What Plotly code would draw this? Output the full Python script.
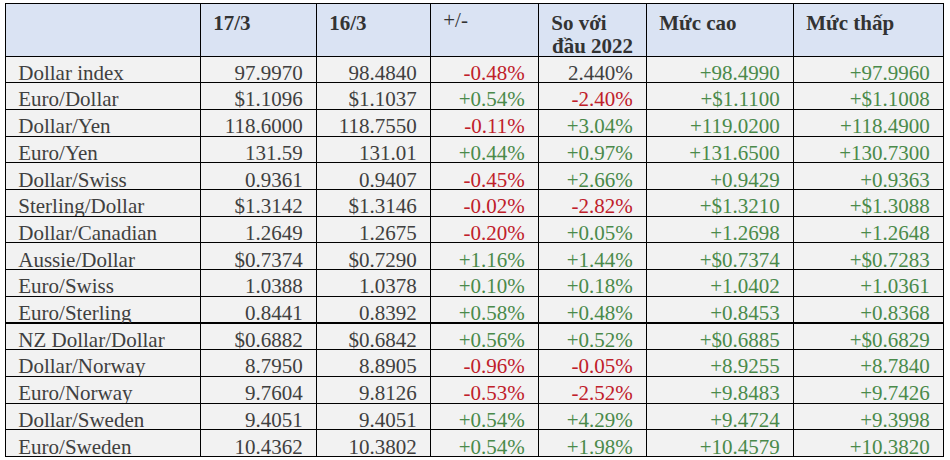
import plotly.graph_objects as go

# column headers (second line of the "So với" header is added as annotation)
headers = ["", "<b>17/3</b>", "<b>16/3</b>", "+/-", "<b>So với</b>",
           "<b>Mức cao</b>", "<b>Mức thấp</b>"]
header_line2 = "<b>đầu 2022</b>"

pairs = ["Dollar index", "Euro/Dollar", "Dollar/Yen", "Euro/Yen", "Dollar/Swiss",
         "Sterling/Dollar", "Dollar/Canadian", "Aussie/Dollar", "Euro/Swiss",
         "Euro/Sterling", "NZ Dollar/Dollar", "Dollar/Norway", "Euro/Norway",
         "Dollar/Sweden", "Euro/Sweden"]

close_17 = ["97.9970", "$1.1096", "118.6000", "131.59", "0.9361", "$1.3142", "1.2649",
            "$0.7374", "1.0388", "0.8441", "$0.6882", "8.7950", "9.7604", "9.4051", "10.4362"]

close_16 = ["98.4840", "$1.1037", "118.7550", "131.01", "0.9407", "$1.3146", "1.2675",
            "$0.7290", "1.0378", "0.8392", "$0.6842", "8.8905", "9.8126", "9.4051", "10.3802"]

change = ["-0.48%", "+0.54%", "-0.11%", "+0.44%", "-0.45%", "-0.02%", "-0.20%",
          "+1.16%", "+0.10%", "+0.58%", "+0.56%", "-0.96%", "-0.53%", "+0.54%", "+0.54%"]

ytd = ["2.440%", "-2.40%", "+3.04%", "+0.97%", "+2.66%", "-2.82%", "+0.05%",
       "+1.44%", "+0.18%", "+0.48%", "+0.52%", "-0.05%", "-2.52%", "+4.29%", "+1.98%"]

high = ["+98.4990", "+$1.1100", "+119.0200", "+131.6500", "+0.9429", "+$1.3210", "+1.2698",
        "+$0.7374", "+1.0402", "+0.8453", "+$0.6885", "+8.9255", "+9.8483", "+9.4724", "+10.4579"]

low = ["+97.9960", "+$1.1008", "+118.4900", "+130.7300", "+0.9363", "+$1.3088", "+1.2648",
       "+$0.7283", "+1.0361", "+0.8368", "+$0.6829", "+8.7840", "+9.7426", "+9.3998", "+10.3820"]

GRAY = "#404040"
RED = "#c0202a"
GREEN = "#4a8a4a"
FONT = "Liberation Serif"
PAD = "\u00a0"  # a little extra inner padding, like the original Word table

W, H = 950, 460
X0, X1, TOP = 5, 943, 3
col_widths = [195, 116, 114, 108, 108, 147, 150]
HEADER_H = 53
ROW_H = 26.7


def sign_color(values):
    out = []
    for v in values:
        if v.startswith("-"):
            out.append(RED)
        elif v.startswith("+"):
            out.append(GREEN)
        else:
            out.append(GRAY)
    return out


columns = [pairs, close_17, close_16, change, ytd, high, low]
font_colors = [[GRAY] * len(pairs)] * 3 + [sign_color(c) for c in columns[3:]]

shown = [[PAD + v for v in pairs]] + [[v + PAD for v in c] for c in columns[1:]]

fig = go.Figure(go.Table(
    domain=dict(x=[X0 / W, X1 / W], y=[0, 1 - TOP / H]),
    columnwidth=col_widths,
    header=dict(
        values=[PAD + h for h in headers],
        fill_color="#dae3f3",
        line=dict(color="black", width=1),
        align="left",
        height=HEADER_H,
        font=dict(family=FONT, size=21, color="#333333"),
    ),
    cells=dict(
        values=shown,
        fill_color="#f2f2f2",
        line=dict(color="black", width=1),
        align=["left"] + ["right"] * 6,
        height=ROW_H,
        font=dict(family=FONT, size=21, color=font_colors),
    ),
))

# second header line under "So với"
col_left = X0 + sum(col_widths[:4]) * (X1 - X0) / sum(col_widths)
fig.add_annotation(
    text=header_line2, xref="paper", yref="paper",
    x=(col_left + 12) / W, y=1 - 46 / H,
    xanchor="left", yanchor="middle", showarrow=False,
    font=dict(family=FONT, size=21, color="#333333"),
)

fig.update_layout(
    width=W, height=H,
    margin=dict(l=0, r=0, t=0, b=0),
    paper_bgcolor="white",
)

fig.write_html("out.html", config={"displayModeBar": False},
               post_script="document.body.style.margin='0';")
